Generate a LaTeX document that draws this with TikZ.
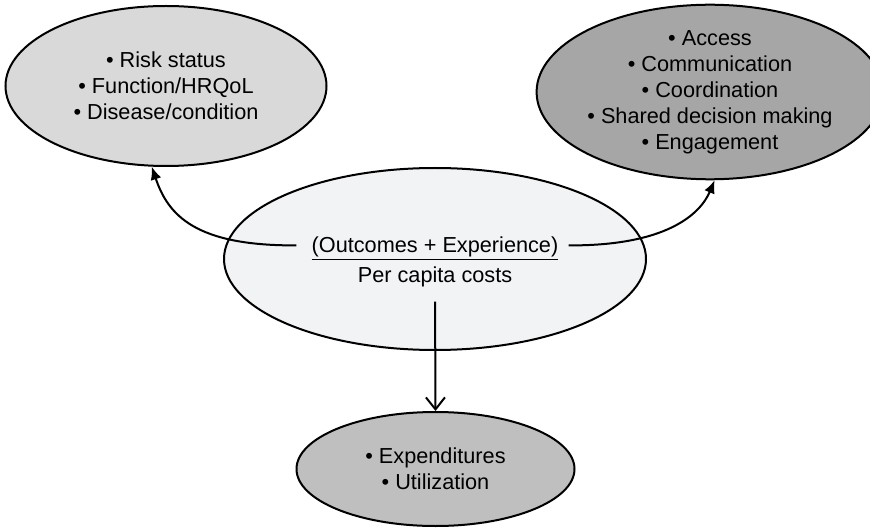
\documentclass[tikz,border=0pt]{standalone}
\usepackage{fontspec}
\setmainfont{Liberation Sans}
\usetikzlibrary{shapes.geometric,arrows.meta}
\definecolor{tlfill}{HTML}{D9D9D9}
\definecolor{trfill}{HTML}{A6A6A6}
\definecolor{ctrfill}{HTML}{F2F3F5}
\definecolor{botfill}{HTML}{BFBFBF}
\begin{document}
\begin{tikzpicture}[x=1pt,y=-1pt,
  every node/.style={font=\fontsize{21.7}{26}\selectfont, text=black},
  blob/.style={ellipse, draw=black, line width=2pt, inner sep=0pt, align=center},
  txt/.style={inner sep=0pt, anchor=base},
  fillarrow/.style={line width=2pt, -{Latex[length=13pt,width=11pt]}},
  openarrow/.style={line width=2pt, -{Straight Barb[length=12pt,width=19pt]}}]
\useasboundingbox (0,0) rectangle (870,529);
\node[blob, fill=tlfill, minimum width=321pt, minimum height=160pt] (tl) at (166,86)
  {• Risk status\\• Function/HRQoL\\• Disease/condition};
\node[blob, fill=trfill, minimum width=316pt, minimum height=160pt] (tr) at (710,92)
  {• Access\\• Communication\\• Coordination\\• Shared decision making\\• Engagement};
\node[blob, fill=ctrfill, minimum width=422pt, minimum height=182pt] (ctr) at (435,259) {};
\node[txt] (outc) at (435,253) {\underline{(Outcomes + Experience)}};
\node[txt] (pcc) at (435,283) {Per capita costs};
\node[blob, fill=botfill, minimum width=278pt, minimum height=114pt] (bot) at (435.5,469)
  {• Expenditures\\• Utilization};
\draw[fillarrow] ([xshift=-15pt,yshift=3pt]outc.west) .. controls (195,246) and (168,215) .. (tl.260);
\draw[fillarrow] ([xshift=10pt,yshift=3pt]outc.east) .. controls (665,246) and (700,215) .. (tr.273);
\draw[openarrow, shorten <=14pt] (pcc.south) -- (bot.north);
\end{tikzpicture}
\end{document}
